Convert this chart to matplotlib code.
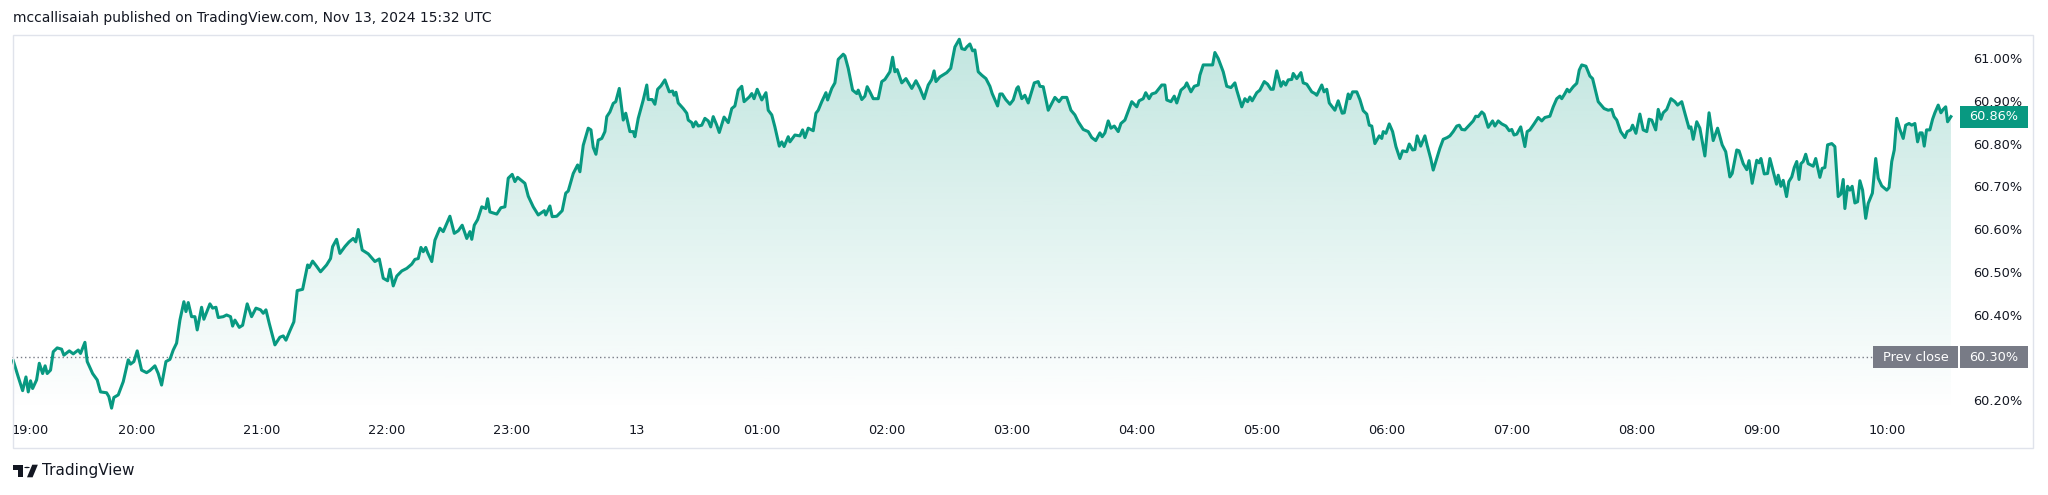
"""TradingView style intraday line chart of a percentage rate, 19:00 -> 10:30."""
import matplotlib
matplotlib.use("Agg")
import matplotlib.pyplot as plt
import numpy as np
from matplotlib.patches import Rectangle, Polygon, Circle

W, H = 2048, 495

# minutes after 19:00 and value in percent
minutes = [
    0.6, 3.0, 5.1, 6.7, 7.8, 8.9, 9.9, 11.8, 13.1, 14.7, 15.9, 16.9, 18.5, 19.8, 21.7, 23.8,
    24.9, 27.5, 29.4, 31.8, 32.9, 35.0, 36.1, 38.7, 40.9, 42.5, 45.4, 46.5, 47.8, 48.9, 51.0,
    53.4, 55.8, 56.9, 58.5, 60.1, 62.2, 64.6, 66.2, 68.6, 70.2, 71.8, 73.9, 75.8, 77.4, 79.0,
    80.6, 82.5, 83.5, 84.6, 86.2, 87.8, 88.9, 91.0, 92.1, 95.0, 96.3, 97.9, 99.0, 101.4, 103.0,
    104.9, 105.9, 107.0, 109.1, 110.7, 112.9, 115.0, 117.1, 119.3, 120.6, 121.9, 123.5, 126.2,
    128.6, 130.2, 131.5, 133.4, 135.3, 136.9, 139.5, 141.9, 142.7, 144.3, 146.2, 148.1, 151.0,
    152.9, 153.9, 155.8, 157.4,
    159.8, 161.8, 163.8, 165.0, 166.2, 168.1, 171.0, 174.2, 176.3, 178.2, 180.3, 181.4, 183.0,
    184.7, 187.1, 189.5, 191.9, 193.4, 195.0, 196.3, 197.4, 198.6, 199.5, 201.5, 203.0, 205.4,
    207.0, 210.2, 212.3, 214.2, 216.1, 218.3, 219.8, 220.7, 221.9, 223.5, 225.5, 227.4, 228.3,
    229.4, 232.7, 234.7, 236.6, 238.2, 240.1, 241.4, 242.7, 246.2, 247.8, 250.2, 252.6, 255.5,
    256.2, 258.2, 259.3, 261.5, 264.1, 265.8, 267.0, 269.4, 271.5, 272.6, 274.2, 276.6, 277.9,
    279.0, 280.3, 281.4, 283.1, 284.6, 285.5, 287.0, 288.6, 289.8, 291.5, 293.4, 294.6, 296.6,
    298.2, 299.0, 300.6, 303.0, 304.7, 305.4, 307.3, 308.6, 309.9, 311.5, 313.4,
    315.5, 317.1, 317.8, 318.7, 319.8, 322.2, 323.9, 324.6, 326.3, 327.0, 328.2, 329.4, 331.1,
    332.6, 334.2, 335.4, 336.6, 338.3, 339.5, 341.8, 343.8, 345.5, 347.0, 348.6, 350.3, 351.4,
    353.9, 355.1, 356.2, 357.7, 359.9, 361.9, 363.0, 364.7, 366.2, 368.3, 369.5, 370.6, 372.6,
    373.4, 375.8, 378.2, 379.5, 380.6, 382.2, 384.6, 385.9, 387.0, 388.7, 390.7, 391.5, 393.5,
    395.0, 396.6, 399.0, 399.8, 401.4, 403.5, 405.5, 406.2, 407.9, 409.4, 410.5, 411.8, 413.4,
    415.8, 417.5, 419.0, 421.4, 422.7, 423.8, 424.9, 427.1, 429.1, 431.9, 433.9, 435.8, 437.8,
    439.8, 441.5, 442.6, 443.5, 445.4, 448.7, 450.6, 452.6, 454.7, 455.9, 457.4, 458.3, 459.8,
    461.1, 462.2, 463.8, 465.5, 467.5, 469.4,
    470.5, 473.1, 474.2, 475.3, 477.0, 479.0, 480.6, 482.3, 483.0, 484.7, 486.2, 487.8, 490.7,
    492.6, 493.4, 495.0, 497.4, 500.6, 502.6, 504.1, 506.3, 508.3, 510.2, 511.8, 514.2, 516.6,
    518.3, 520.2, 522.2, 523.3, 524.6, 526.2, 527.5, 529.1, 531.0, 532.3, 534.2, 537.5, 539.9,
    541.0, 543.0, 544.2, 545.8, 547.1, 549.0, 551.9, 553.4, 554.3, 556.3, 557.9, 559.1, 561.1,
    563.0, 563.9, 565.9, 567.5, 569.4, 570.2, 571.8, 574.2, 576.3, 577.4, 579.0, 581.4, 583.1,
    585.1, 587.0, 587.9, 590.3, 591.8, 593.1, 594.2, 595.3, 597.5, 599.0, 601.1, 602.7, 604.3,
    605.4, 607.1, 609.1, 610.2, 611.4, 612.6, 614.3, 615.0, 616.7, 618.7, 619.8, 621.5, 623.9,
    625.4,
    626.3, 628.7, 629.8, 631.1, 632.3, 635.0, 636.6, 638.5, 639.5, 641.4, 642.2, 643.5, 645.5,
    647.0, 648.6, 650.3, 651.5, 652.7, 654.2, 656.3, 657.5, 658.2, 659.5, 661.1, 662.7, 664.3,
    666.2, 667.5, 669.5, 670.7, 672.3, 673.4, 674.5, 676.2, 678.2, 679.3, 681.0, 682.2, 683.9,
    685.4, 687.0, 688.9, 690.2, 691.8, 693.5, 694.7, 695.9, 697.4, 699.5, 701.4, 702.6, 703.8,
    705.5, 706.6, 708.6, 710.7, 711.8, 713.4, 715.1, 717.1, 718.7, 719.9, 721.0, 722.3, 724.2,
    726.2, 727.3, 728.6, 730.6, 732.6, 734.3, 735.8, 738.2, 739.8, 741.5, 743.0, 743.9, 745.4,
    746.5, 747.5, 749.4, 751.1, 752.3, 753.5, 755.5, 757.4, 758.7, 761.4, 764.2, 766.2, 767.9,
    769.0, 770.3, 772.2, 774.2, 775.3, 777.0, 777.9, 779.5, 781.4,
    783.0, 784.7, 785.8, 787.1, 789.0, 790.2, 791.5, 792.6, 794.3, 796.3, 798.2, 799.5, 801.5,
    803.0, 805.0, 805.9, 807.0, 808.7, 810.2, 812.6, 814.6, 816.6, 818.7, 820.9, 822.6, 824.6,
    825.7, 827.9, 829.0, 831.0, 832.7, 833.8, 835.3, 837.5, 838.6, 839.5, 841.1, 842.7, 843.8,
    845.9, 847.0, 847.8, 849.1, 850.2, 851.8, 852.9, 854.3, 855.5, 856.7, 857.8, 858.7, 859.8,
    861.0, 862.2, 864.6, 865.8, 867.8, 868.9, 870.2, 871.5, 873.5, 875.0, 876.6, 877.9, 879.0,
    879.8, 881.1, 882.2, 883.3, 884.6, 885.9, 887.0, 888.3, 889.8, 891.0, 893.0, 894.6, 895.8,
    897.5, 899.9, 901.0, 902.3, 903.5, 904.7, 906.2, 907.8, 909.0, 910.6, 911.9, 913.4, 914.7,
    915.8, 916.9, 917.9, 919.0, 920.6, 921.9, 923.0, 924.6, 925.9, 927.0, 928.2, 929.1, 930.7,
]
yield_pct = [
    60.292, 60.254, 60.222, 60.254, 60.219, 60.245, 60.227, 60.247, 60.286, 60.262, 60.280,
    60.262, 60.270, 60.313, 60.322, 60.319, 60.305, 60.315, 60.308, 60.317, 60.309, 60.335,
    60.290, 60.262, 60.247, 60.219, 60.217, 60.208, 60.181, 60.206, 60.212, 60.243, 60.294,
    60.284, 60.290, 60.315, 60.270, 60.264, 60.269, 60.280, 60.262, 60.235, 60.290, 60.295,
    60.317, 60.333, 60.387, 60.430, 60.407, 60.428, 60.395, 60.395, 60.364, 60.417, 60.389,
    60.425, 60.415, 60.417, 60.393, 60.395, 60.399, 60.395, 60.373, 60.387, 60.370, 60.375,
    60.425, 60.395, 60.415, 60.411, 60.403, 60.411, 60.379, 60.329, 60.347, 60.350, 60.340,
    60.362, 60.383, 60.456, 60.459, 60.516, 60.510, 60.525, 60.513, 60.500, 60.516, 60.531,
    60.559, 60.576, 60.543,
    60.559, 60.570, 60.578, 60.570, 60.599, 60.551, 60.542, 60.524, 60.530, 60.485, 60.479,
    60.506, 60.467, 60.490, 60.502, 60.508, 60.518, 60.529, 60.531, 60.557, 60.547, 60.557,
    60.545, 60.524, 60.574, 60.602, 60.594, 60.630, 60.590, 60.596, 60.609, 60.578, 60.594,
    60.576, 60.609, 60.622, 60.652, 60.648, 60.671, 60.640, 60.635, 60.650, 60.652, 60.719,
    60.728, 60.711, 60.721, 60.707, 60.677, 60.652, 60.633, 60.643, 60.633, 60.654, 60.629,
    60.630, 60.643, 60.684, 60.689, 60.730, 60.750, 60.734, 60.796, 60.836, 60.832, 60.791,
    60.775, 60.808, 60.812, 60.828, 60.863, 60.874, 60.894, 60.898, 60.929, 60.855, 60.871,
    60.828, 60.828, 60.816, 60.859, 60.902, 60.937, 60.903, 60.903, 60.892, 60.927, 60.935,
    60.949,
    60.921, 60.923, 60.913, 60.920, 60.895, 60.882, 60.871, 60.855, 60.849, 60.839, 60.851,
    60.841, 60.843, 60.859, 60.853, 60.839, 60.863, 60.843, 60.826, 60.862, 60.849, 60.882,
    60.888, 60.925, 60.934, 60.898, 60.909, 60.917, 60.905, 60.927, 60.902, 60.919, 60.878,
    60.867, 60.839, 60.794, 60.804, 60.793, 60.816, 60.804, 60.820, 60.818, 60.832, 60.814,
    60.836, 60.830, 60.871, 60.878, 60.898, 60.919, 60.902, 60.929, 60.942, 60.997, 61.009,
    61.005, 60.976, 60.925, 60.917, 60.925, 60.903, 60.911, 60.933, 60.921, 60.905, 60.905,
    60.945, 60.950, 60.968, 61.002, 60.968, 60.973, 60.942, 60.952, 60.929, 60.947, 60.929,
    60.905, 60.937, 60.950, 60.970, 60.945, 60.956, 60.966, 60.976, 61.026, 61.044, 61.022,
    61.020, 61.026, 61.033, 61.017, 61.019, 60.968, 60.960, 60.952, 60.934,
    60.917, 60.888, 60.916, 60.916, 60.903, 60.892, 60.902, 60.929, 60.933, 60.905, 60.913,
    60.895, 60.942, 60.945, 60.934, 60.933, 60.878, 60.908, 60.898, 60.908, 60.908, 60.878,
    60.867, 60.851, 60.833, 60.828, 60.814, 60.807, 60.825, 60.816, 60.825, 60.853, 60.836,
    60.841, 60.828, 60.847, 60.855, 60.898, 60.886, 60.900, 60.905, 60.919, 60.905, 60.916,
    60.919, 60.937, 60.937, 60.902, 60.898, 60.911, 60.895, 60.925, 60.933, 60.942, 60.921,
    60.934, 60.937, 60.960, 60.984, 60.984, 60.984, 61.013, 60.999, 60.968, 60.934, 60.931,
    60.942, 60.925, 60.886, 60.905, 60.898, 60.909, 60.900, 60.919, 60.925, 60.945, 60.939,
    60.927, 60.927, 60.970, 60.934, 60.945, 60.937, 60.949, 60.950, 60.964, 60.952, 60.966,
    60.942, 60.939, 60.921, 60.917,
    60.913, 60.937, 60.921, 60.927, 60.895, 60.878, 60.900, 60.871, 60.872, 60.916, 60.905,
    60.921, 60.921, 60.903, 60.877, 60.869, 60.843, 60.841, 60.800, 60.818, 60.812, 60.828,
    60.824, 60.846, 60.828, 60.793, 60.765, 60.783, 60.781, 60.799, 60.785, 60.786, 60.818,
    60.794, 60.818, 60.796, 60.765, 60.738, 60.765, 60.789, 60.810, 60.814, 60.818, 60.828,
    60.841, 60.843, 60.833, 60.832, 60.843, 60.853, 60.864, 60.863, 60.874, 60.869, 60.838,
    60.853, 60.841, 60.853, 60.846, 60.841, 60.830, 60.833, 60.820, 60.822, 60.839, 60.793,
    60.828, 60.832, 60.846, 60.861, 60.853, 60.861, 60.864, 60.886, 60.905, 60.911, 60.905,
    60.917, 60.927, 60.921, 60.933, 60.941, 60.972, 60.984, 60.981, 60.958, 60.952, 60.898,
    60.882, 60.878, 60.880, 60.863, 60.855, 60.828, 60.814, 60.828, 60.832, 60.843, 60.824,
    60.869,
    60.832, 60.828, 60.857, 60.855, 60.832, 60.880, 60.857, 60.872, 60.880, 60.905, 60.898,
    60.890, 60.898, 60.871, 60.836, 60.839, 60.810, 60.851, 60.836, 60.771, 60.872, 60.807,
    60.836, 60.797, 60.781, 60.722, 60.730, 60.785, 60.783, 60.753, 60.739, 60.760, 60.707,
    60.761, 60.755, 60.765, 60.729, 60.730, 60.765, 60.726, 60.705, 60.726, 60.700, 60.714,
    60.676, 60.711, 60.722, 60.744, 60.758, 60.716, 60.753, 60.758, 60.775, 60.753, 60.747,
    60.765, 60.721, 60.742, 60.744, 60.797, 60.800, 60.793, 60.676, 60.682, 60.716, 60.648,
    60.700, 60.691, 60.700, 60.661, 60.664, 60.713, 60.691, 60.625, 60.660, 60.684, 60.765,
    60.719, 60.701, 60.691, 60.697, 60.758, 60.785, 60.859, 60.833, 60.812, 60.843, 60.847,
    60.843, 60.847, 60.804, 60.825, 60.825, 60.794, 60.832, 60.832, 60.857, 60.872, 60.890,
    60.872, 60.880, 60.886, 60.851, 60.863,
]

tick_minutes = [0, 60, 120, 180, 240, 300, 360, 420, 480, 540, 600, 660, 720, 780, 840, 900]
tick_labels = ["19:00", "20:00", "21:00", "22:00", "23:00", "13", "01:00", "02:00", "03:00",
               "04:00", "05:00", "06:00", "07:00", "08:00", "09:00", "10:00"]
price_ticks = [60.2, 60.3, 60.4, 60.5, 60.6, 60.7, 60.8, 60.9, 61.0]
prev_close = 60.30
header = "mccallisaiah published on TradingView.com, Nov 13, 2024 15:32 UTC"

GREEN = "#089981"
GREY = "#787b86"
TEXT = "#131722"
plt.rcParams["font.family"] = ["DejaVu Sans"]


def fx(x):
    return x / W


def fy(y):
    return 1 - y / H


fig = plt.figure(figsize=(W / 100, H / 100), dpi=100)
ax = fig.add_axes([fx(12), fy(412), (1958 - 12) / W, (412 - 35) / H])
x0, x1 = 0, 934.1
y0, y1 = 60.172, 61.054
ax.set_xlim(x0, x1)
ax.set_ylim(y0, y1)
for s in ax.spines.values():
    s.set_visible(False)

# gradient area under the line
poly = ax.fill_between(minutes, yield_pct, y0, color="none", lw=0)
grad = np.zeros((256, 1, 4))
grad[:, 0, :3] = np.array([8, 153, 129]) / 255
grad[:, 0, 3] = np.linspace(0.25, 0.0, 256)
img = ax.imshow(grad, extent=[x0, x1, y0, y1], aspect="auto", origin="upper", zorder=1)
img.set_clip_path(poly.get_paths()[0], ax.transData)

ax.plot(minutes, yield_pct, color=GREEN, lw=2.2, zorder=3, solid_joinstyle="round")
ax.axhline(prev_close, xmax=(1873 - 12) / (1958 - 12), color=GREY, lw=1,
           ls=(0, (1, 2)), zorder=2)

ax.set_xticks(tick_minutes, tick_labels)
ax.get_xticklabels()[0].set_horizontalalignment("left")
ax.tick_params(axis="x", length=0, pad=9, labelsize=9.3, labelcolor=TEXT)
ax.yaxis.tick_right()
ax.set_yticks(price_ticks, [f"{v:.2f}%" for v in price_ticks])
ax.tick_params(axis="y", length=0, pad=11, labelsize=9.3, labelcolor=TEXT)

# outer frame
fig.patches.append(Rectangle((fx(13), fy(448)), (2033 - 13) / W, (448 - 35) / H,
                             transform=fig.transFigure, fill=False, ec="#e0e3eb", lw=1))

fig.canvas.draw()
y_pc = ax.transData.transform((0, prev_close))[1] / H
y_last = ax.transData.transform((0, yield_pct[-1]))[1] / H
bh = 22 / H

fig.patches.append(Rectangle((fx(1873), y_pc - bh / 2), 85 / W, bh, transform=fig.transFigure,
                             fc=GREY, ec="none", zorder=5))
fig.patches.append(Rectangle((fx(1960), y_pc - bh / 2), 68 / W, bh, transform=fig.transFigure,
                             fc=GREY, ec="none", zorder=5))
fig.patches.append(Rectangle((fx(1960), y_last - bh / 2), 68 / W, bh, transform=fig.transFigure,
                             fc=GREEN, ec="none", zorder=5))
fig.text(fx(1915.5), y_pc, "Prev close", color="white", fontsize=9.3, ha="center",
         va="center", zorder=6)
fig.text(fx(1994), y_pc, f"{prev_close:.2f}%", color="white", fontsize=9.3, ha="center",
         va="center", zorder=6)
fig.text(fx(1994), y_last, f"{yield_pct[-1]:.2f}%", color="white", fontsize=9.3, ha="center",
         va="center", zorder=6)

fig.text(fx(13), fy(18), header, fontsize=10, color=TEXT, ha="left", va="center")

# TradingView logo + wordmark
s = 0.7


def lp(ux, uy):
    return (fx(13 + ux * s), fy(471 + (uy - 13) * s))


fig.patches.append(Polygon([lp(14, 22), lp(7, 22), lp(7, 11), lp(0, 11), lp(0, 4), lp(14, 4)],
                           closed=True, transform=fig.transFigure, fc=TEXT, ec="none"))
fig.patches.append(Polygon([lp(28, 22), lp(20, 22), lp(27.5, 4), lp(35.5, 4)], closed=True,
                           transform=fig.transFigure, fc=TEXT, ec="none"))
fig.patches.append(Circle(lp(20, 8), 4 * s / W, transform=fig.transFigure, fc=TEXT, ec="none"))
fig.text(fx(42), fy(471), "TradingView", fontsize=11, color=TEXT, ha="left", va="center")

fig.savefig("out.png", dpi=100, facecolor="white")
